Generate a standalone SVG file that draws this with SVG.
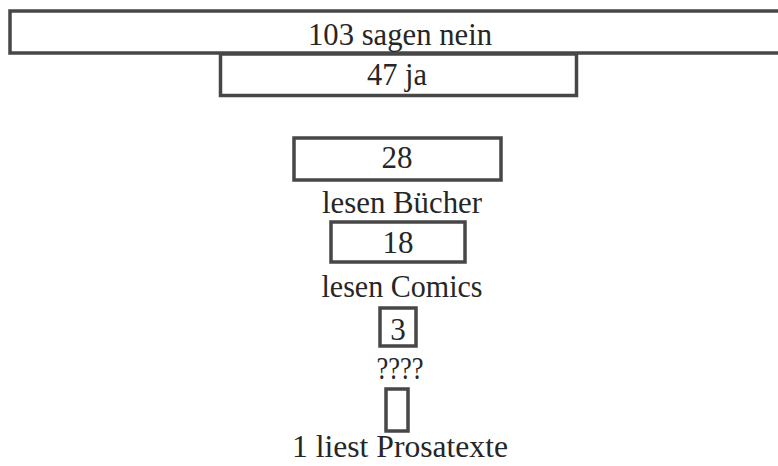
<svg xmlns="http://www.w3.org/2000/svg" width="778" height="466" viewBox="0 0 778 466">
<style>
.b{fill:none;stroke:#474747;stroke-width:3.5}
.t{font-family:"Liberation Serif",serif;font-size:31px;fill:#262626;text-anchor:middle}
</style>
<rect width="778" height="466" fill="#fff"/>
<g id="nein"><rect class="b" x="10" y="11" width="775" height="42"/><text class="t" x="400" y="45" textLength="184" lengthAdjust="spacingAndGlyphs">103 sagen nein</text></g>
<g id="ja"><rect class="b" x="220.5" y="54" width="356" height="41.5"/><text class="t" x="397" y="85" textLength="60" lengthAdjust="spacingAndGlyphs">47 ja</text></g>
<g id="buecher"><rect class="b" x="294" y="138" width="207" height="42"/><text class="t" x="397" y="168">28</text><text class="t" x="402" y="213" textLength="160" lengthAdjust="spacingAndGlyphs">lesen Bücher</text></g>
<g id="comics"><rect class="b" x="331" y="222" width="134" height="40"/><text class="t" x="398" y="253">18</text><text class="t" x="402" y="297" textLength="161" lengthAdjust="spacingAndGlyphs">lesen Comics</text></g>
<g id="drei"><rect class="b" x="380" y="308" width="36" height="38"/><text class="t" x="398" y="340">3</text><text class="t" x="400" y="379" textLength="47" lengthAdjust="spacingAndGlyphs">????</text></g>
<g id="prosa"><rect class="b" x="386" y="389" width="22" height="42"/><text class="t" x="400" y="457" textLength="216" lengthAdjust="spacingAndGlyphs">1 liest Prosatexte</text></g>
<g id="connectors"/>
</svg>
